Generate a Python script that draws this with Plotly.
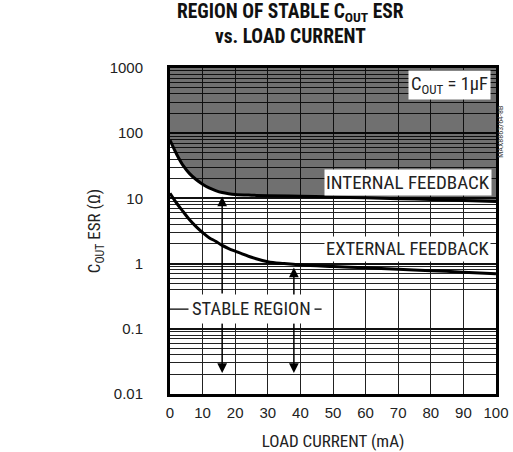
import plotly.graph_objects as go
import math

# ---- data ----
internal_x = [0, 2, 4, 6, 8, 10, 12, 14, 16, 18, 20, 25, 30, 40, 50, 60, 70, 80, 90, 100]
internal_y = [78, 48, 32, 24, 19.5, 16.5, 14.5, 13.2, 12.3, 11.8, 11.5, 11.2, 11.0, 10.8, 10.5, 10.2, 9.9, 9.6, 9.3, 9.0]

external_x = [0, 2, 4, 6, 8, 10, 12, 14, 16, 18, 20, 25, 30, 35, 40, 50, 60, 70, 80, 90, 100]
external_y = [12, 8.5, 6.3, 4.7, 3.7, 3.0, 2.5, 2.2, 1.9, 1.7, 1.55, 1.25, 1.07, 1.0, 0.95, 0.9, 0.86, 0.82, 0.78, 0.74, 0.70]

x_ticks = [0, 10, 20, 30, 40, 50, 60, 70, 80, 90, 100]
y_decades = [0.01, 0.1, 1, 10, 100, 1000]
y_labels = ["0.01", "0.1", "1", "10", "100", "1000"]

# stable-region arrows: (x, tip, tail)
arrows_up = [(16, 10.7, 0.33), (38, 0.87, 0.30)]
arrows_down = [(16, 0.021, 0.128), (38, 0.021, 0.128)]

y_top = 1000
stable_line_x = [0, 46.5]
stable_line_y = [0.2, 0.2]

NARROW = "Liberation Sans Narrow, Arial Narrow, Roboto Condensed, DejaVu Sans Condensed, sans-serif"
REG = "Liberation Sans, Arial, sans-serif"

minor_vals = []
for d in y_decades[:-1]:
    for k in range(2, 10):
        v = round(d * k, 6)
        if abs(v - 0.2) < 1e-9 or abs(v - 0.3) < 1e-9:
            continue
        minor_vals.append(v)

fig = go.Figure()

# unstable (shaded) region above internal-feedback curve
fig.add_trace(go.Scatter(
    x=internal_x + [internal_x[-1], internal_x[0]],
    y=internal_y + [y_top, y_top],
    fill="toself", fillcolor="rgba(0,0,0,0.56)",
    line=dict(width=0), mode="lines", hoverinfo="skip", showlegend=False))

# leader line for STABLE REGION
fig.add_trace(go.Scatter(x=stable_line_x, y=stable_line_y, mode="lines",
                         line=dict(color="black", width=1.2),
                         hoverinfo="skip", showlegend=False))

fig.add_trace(go.Scatter(x=internal_x, y=internal_y, mode="lines",
                         line=dict(color="black", width=3, shape="spline"),
                         showlegend=False))
fig.add_trace(go.Scatter(x=external_x, y=external_y, mode="lines",
                         line=dict(color="black", width=3, shape="spline"),
                         showlegend=False))

for (x, tip, tail) in arrows_up + arrows_down:
    fig.add_annotation(x=x, y=math.log10(tip), ax=x, ay=math.log10(tail),
                       axref="x", ayref="y", xref="x", yref="y", text="",
                       showarrow=True, arrowhead=2, arrowsize=1.3,
                       arrowwidth=1.5, arrowcolor="black", standoff=0)

fig.add_annotation(x=25.1, y=math.log10(0.2), text="STABLE REGION",
                   showarrow=False, bgcolor="white", borderpad=3,
                   font=dict(family=NARROW, size=18.5, color="#222"))
fig.add_annotation(x=98.8, y=math.log10(17.6), xanchor="right", text="INTERNAL FEEDBACK",
                   showarrow=False, bgcolor="white", borderpad=1,
                   font=dict(family=NARROW, size=19, color="#222"))
fig.add_annotation(x=98.5, y=math.log10(1.70), xanchor="right", text="EXTERNAL FEEDBACK",
                   showarrow=False, bgcolor="white", borderpad=1,
                   font=dict(family=NARROW, size=18.5, color="#222"))
fig.add_annotation(x=98.6, y=math.log10(547), xanchor="right",
                   text="C<sub>OUT</sub> = 1µF",
                   showarrow=False, bgcolor="white", borderpad=2,
                   font=dict(family=NARROW, size=18.5, color="#222"))

fig.add_annotation(xref="paper", yref="paper", x=1.035, y=0.89,
                   text="MAX8863/64-8B", textangle=-90, showarrow=False,
                   font=dict(family=NARROW, size=8, color="#444"))

fig.add_annotation(xref="paper", yref="paper", x=0.37, y=1.0, yshift=18,
                   yanchor="bottom",
                   text="<b>REGION OF STABLE C<sub>OUT</sub> ESR<br>vs. LOAD CURRENT</b>",
                   showarrow=False,
                   font=dict(family=NARROW, size=19.5, color="#111"))

fig.update_layout(
    width=513, height=452,
    margin=dict(l=170, r=17, t=68, b=58, autoexpand=False),
    paper_bgcolor="white", plot_bgcolor="white",
    showlegend=False,
)

fig.update_xaxes(
    range=[0, 100], tickvals=x_ticks, ticktext=[str(v) for v in x_ticks],
    showgrid=True, gridcolor="#222", gridwidth=1.2,
    showline=True, linecolor="black", linewidth=3, mirror=True,
    ticks="outside", ticklen=3, tickcolor="rgba(0,0,0,0)",
    tickfont=dict(family=REG, size=15, color="#222"),
    zeroline=False, automargin=False,
    title=dict(text="LOAD CURRENT (mA)", standoff=16,
               font=dict(family=NARROW, size=17, color="#222")),
)

fig.update_yaxes(
    type="log", range=[-2, 3],
    tickvals=y_decades, ticktext=y_labels,
    showgrid=True, gridcolor="#111", gridwidth=2.2,
    minor=dict(tickvals=minor_vals, showgrid=True, gridcolor="#222",
               gridwidth=1, ticks=""),
    showline=True, linecolor="black", linewidth=3, mirror=True,
    ticks="outside", ticklen=21, tickcolor="rgba(0,0,0,0)",
    tickfont=dict(family=REG, size=15, color="#222"),
    zeroline=False, automargin=False,
    title=dict(text="C<sub>OUT</sub> ESR (Ω)", standoff=5,
               font=dict(family=NARROW, size=17, color="#222")),
)

fig.write_html("out.html", config={"displayModeBar": False},
               post_script="document.body.style.margin='0';")
